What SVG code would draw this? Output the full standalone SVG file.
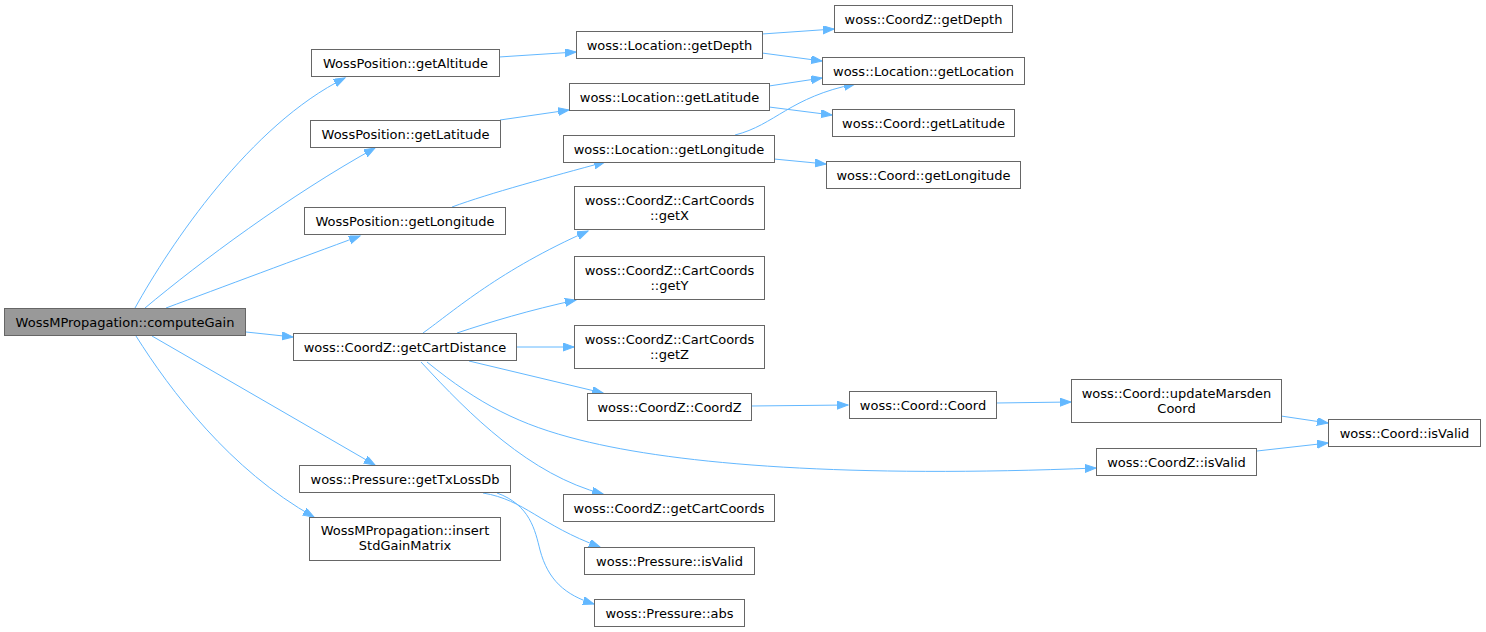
<svg xmlns="http://www.w3.org/2000/svg" width="1486" height="632" viewBox="0 0 1486 632">
<defs>
<style>
.n rect{fill:#ffffff;stroke:#666666;stroke-width:1}
.root rect{fill:#999999;stroke:#666666;stroke-width:1}
text{font-family:"DejaVu Sans","Noto Sans",sans-serif;font-size:13px;fill:#000000;text-anchor:middle}
.e path{fill:none;stroke:#63b8ff;stroke-width:1;marker-end:url(#ah)}
</style>
<marker id="ah" markerUnits="userSpaceOnUse" markerWidth="13" markerHeight="10" refX="11" refY="4" orient="auto">
<path d="M0,0 L11,4 L0,8 z" fill="#63b8ff" stroke="#63b8ff" stroke-width="1"/>
</marker>
</defs>
<rect width="1486" height="632" fill="#ffffff"/>
<g id="connectors" class="e">
<path d="M135,308 C170,245 250,125 345,78"/>
<path d="M145,308 C200,262 290,195 375,148"/>
<path d="M166,308 C220,288 300,258 360,236"/>
<path d="M246,332 L293,337"/>
<path d="M152,336 L375,465"/>
<path d="M136,336 C170,390 230,470 314,517"/>
<path d="M499,57 L576,52"/>
<path d="M500,120 L569,110"/>
<path d="M452,207 C490,193 550,177 605,162"/>
<path d="M762,34 L834,29"/>
<path d="M762,53 L822,61"/>
<path d="M769,86 L822,78"/>
<path d="M769,107 L832,115"/>
<path d="M735,135 C775,125 790,97 855,84"/>
<path d="M774,159 L826,164"/>
<path d="M423,333 C455,310 500,270 588,231"/>
<path d="M457,333 C490,322 530,310 576,300"/>
<path d="M516,347 L574,347"/>
<path d="M469,361 L603,393"/>
<path d="M427,362 C480,405 520,425 580,440 C680,465 850,478 1096,468"/>
<path d="M421,362 C470,415 530,475 603,494"/>
<path d="M751,406 L848,405"/>
<path d="M996,403 L1071,402"/>
<path d="M1281,416 L1328,423"/>
<path d="M1257,451 L1328,443"/>
<path d="M483,493 C525,500 540,525 600,547"/>
<path d="M497,493 C530,505 535,530 540,550 C548,580 565,595 594,604"/>
</g>
<g id="node-computeGain" class="root"><rect x="4.5" y="308.5" width="241" height="27"/><text x="125" y="326.5">WossMPropagation::computeGain</text></g>
<g id="node-getAltitude" class="n"><rect x="311.5" y="49.5" width="188" height="27"/><text x="405.5" y="67.5">WossPosition::getAltitude</text></g>
<g id="node-wp-getLatitude" class="n"><rect x="310.5" y="120.5" width="190" height="27"/><text x="405.5" y="138.5">WossPosition::getLatitude</text></g>
<g id="node-wp-getLongitude" class="n"><rect x="304.5" y="207.5" width="201" height="27"/><text x="405" y="225.5">WossPosition::getLongitude</text></g>
<g id="node-getCartDistance" class="n"><rect x="293.5" y="333.5" width="223" height="27"/><text x="405" y="351.5">woss::CoordZ::getCartDistance</text></g>
<g id="node-getTxLossDb" class="n"><rect x="299.5" y="465.5" width="211" height="27"/><text x="405" y="483.5">woss::Pressure::getTxLossDb</text></g>
<g id="node-insertStdGainMatrix" class="n"><rect x="309.5" y="517.5" width="191" height="43"/><text x="405" y="535">WossMPropagation::insert</text><text x="405" y="550">StdGainMatrix</text></g>
<g id="node-loc-getDepth" class="n"><rect x="576.5" y="31.5" width="186" height="27"/><text x="669.5" y="49.5">woss::Location::getDepth</text></g>
<g id="node-loc-getLatitude" class="n"><rect x="569.5" y="83.5" width="200" height="27"/><text x="669.5" y="101.5">woss::Location::getLatitude</text></g>
<g id="node-loc-getLongitude" class="n"><rect x="563.5" y="135.5" width="211" height="27"/><text x="669" y="153.5">woss::Location::getLongitude</text></g>
<g id="node-getX" class="n"><rect x="574.5" y="186.5" width="190" height="43"/><text x="669.5" y="205">woss::CoordZ::CartCoords</text><text x="669.5" y="220">::getX</text></g>
<g id="node-getY" class="n"><rect x="574.5" y="256.5" width="190" height="43"/><text x="669.5" y="275">woss::CoordZ::CartCoords</text><text x="669.5" y="290">::getY</text></g>
<g id="node-getZ" class="n"><rect x="574.5" y="325.5" width="190" height="43"/><text x="669.5" y="344">woss::CoordZ::CartCoords</text><text x="669.5" y="359">::getZ</text></g>
<g id="node-CoordZ" class="n"><rect x="587.5" y="393.5" width="164" height="27"/><text x="669.5" y="411.5">woss::CoordZ::CoordZ</text></g>
<g id="node-getCartCoords" class="n"><rect x="563.5" y="494.5" width="211" height="27"/><text x="669" y="512.5">woss::CoordZ::getCartCoords</text></g>
<g id="node-pressure-isValid" class="n"><rect x="584.5" y="547.5" width="170" height="27"/><text x="669.5" y="565.5">woss::Pressure::isValid</text></g>
<g id="node-pressure-abs" class="n"><rect x="594.5" y="599.5" width="150" height="27"/><text x="669.5" y="617.5">woss::Pressure::abs</text></g>
<g id="node-coordz-getDepth" class="n"><rect x="834.5" y="5.5" width="178" height="27"/><text x="923.5" y="23.5">woss::CoordZ::getDepth</text></g>
<g id="node-getLocation" class="n"><rect x="822.5" y="57.5" width="202" height="27"/><text x="923.5" y="75.5">woss::Location::getLocation</text></g>
<g id="node-coord-getLatitude" class="n"><rect x="832.5" y="109.5" width="182" height="27"/><text x="923.5" y="127.5">woss::Coord::getLatitude</text></g>
<g id="node-coord-getLongitude" class="n"><rect x="826.5" y="161.5" width="194" height="27"/><text x="923.5" y="179.5">woss::Coord::getLongitude</text></g>
<g id="node-Coord" class="n"><rect x="849.5" y="391.5" width="147" height="27"/><text x="923" y="409.5">woss::Coord::Coord</text></g>
<g id="node-coordz-isValid" class="n"><rect x="1096.5" y="448.5" width="160" height="27"/><text x="1176.5" y="466.5">woss::CoordZ::isValid</text></g>
<g id="node-updateMarsdenCoord" class="n"><rect x="1071.5" y="379.5" width="210" height="43"/><text x="1176.5" y="398">woss::Coord::updateMarsden</text><text x="1176.5" y="413">Coord</text></g>
<g id="node-coord-isValid" class="n"><rect x="1328.5" y="419.5" width="152" height="27"/><text x="1404.5" y="437.5">woss::Coord::isValid</text></g>
</svg>
